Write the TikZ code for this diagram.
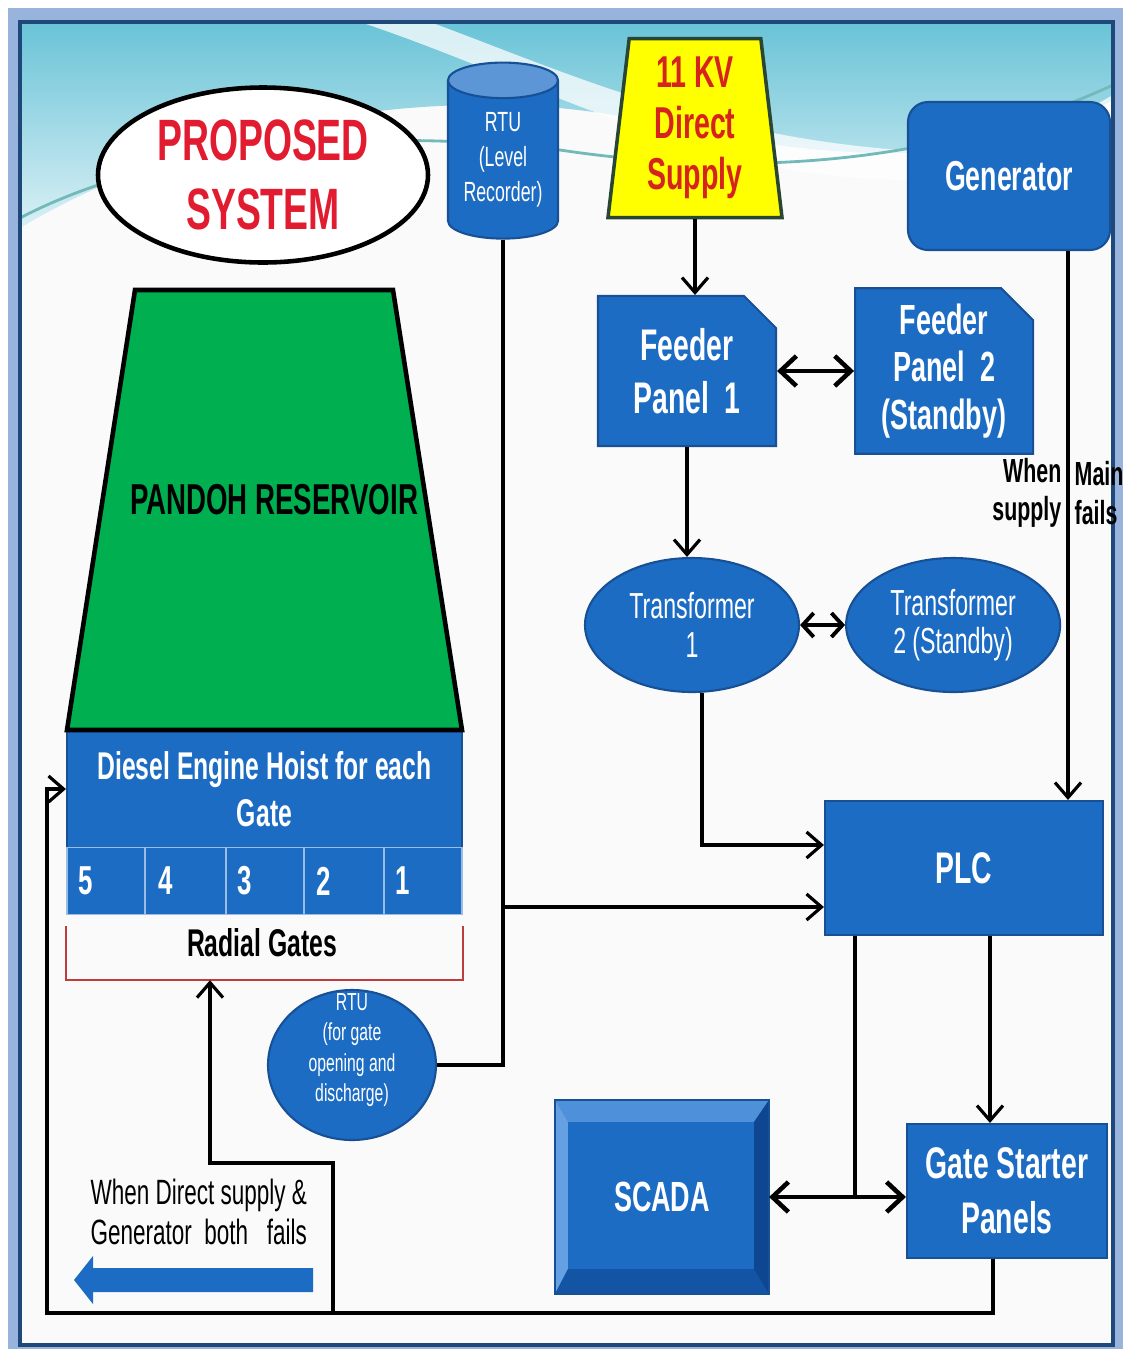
\documentclass[tikz,border=0pt]{standalone}
\usepackage{fontspec}
\setmainfont{Liberation Sans}[FakeStretch=0.64]
\usetikzlibrary{arrows.meta, positioning, shapes.geometric, shapes.misc}

\definecolor{PanelBlue}{RGB}{28,108,196}
\definecolor{PanelEdge}{RGB}{24,80,150}
\definecolor{LidBlue}{RGB}{92,150,214}
\definecolor{BevelLight}{RGB}{78,145,218}
\definecolor{BevelPale}{RGB}{100,160,226}
\definecolor{BevelDark}{RGB}{20,84,165}
\definecolor{BevelDeep}{RGB}{14,70,145}
\definecolor{TitleRed}{RGB}{225,28,48}
\definecolor{SupplyRed}{RGB}{215,35,30}
\definecolor{SupplyYellow}{RGB}{255,255,0}
\definecolor{SupplyEdge}{RGB}{40,70,50}
\definecolor{LakeGreen}{RGB}{0,176,80}
\definecolor{BracketRed}{RGB}{190,60,60}
\definecolor{FrameBand}{RGB}{152,180,220}
\definecolor{FrameLine}{RGB}{30,72,122}
\definecolor{SkyCyan}{RGB}{105,195,215}
\definecolor{PageWhite}{RGB}{250,250,250}

\begin{document}
\begin{tikzpicture}[x=0.1mm, y=-0.1mm,
    every node/.style={align=center, inner sep=0pt},
    panel/.style={rectangle, fill=PanelBlue, draw=PanelEdge, line width=0.6pt,
                  text=white, font=\bfseries\fontsize{12.6}{15}\selectfont},
    feeder/.style={panel, chamfered rectangle, chamfered rectangle corners=north east,
                   chamfered rectangle xsep=1.6mm, chamfered rectangle ysep=1.6mm,
                   minimum width=17.8mm, minimum height=15mm},
    oval/.style={ellipse, fill=PanelBlue, draw=PanelEdge, line width=0.6pt, text=white,
                 font=\fontsize{10.3}{11}\selectfont, minimum width=21.4mm, minimum height=13.4mm},
    gatecell/.style={panel, draw=white!55!PanelBlue, line width=0.5pt, minimum height=6.7mm,
                     font=\bfseries\fontsize{11.5}{13}\selectfont, align=left, text width=5.5mm},
    line/.style={draw=black, line width=0.9pt},
    arr/.style={line, -{Straight Barb[length=1.5mm, width=2.6mm]}},
    dbl/.style={line, line width=1.3pt,
                {Straight Barb[length=1.6mm, width=3mm]}-{Straight Barb[length=1.6mm, width=3mm]}},
    note/.style={text=black, font=\fontsize{10}{11.3}\selectfont}
]
\useasboundingbox (0,0) rectangle (1123,1349);

% page frame and sky
\fill[white] (0,0) rectangle (1123,1349);
\fill[FrameBand] (8,8) rectangle (1123,1349);
\fill[PageWhite] (20,22) rectangle (1113,1345);
\shade[top color=SkyCyan, bottom color=SkyCyan!25]
    (20,22) -- (1113,22) -- (1113,100) .. controls (980,175) and (820,160) .. (640,120)
    .. controls (450,80) and (200,120) .. (20,228) -- cycle;
\fill[white, opacity=0.75] (430,22) .. controls (560,70) and (700,135) .. (900,150)
    .. controls (1000,155) and (1070,120) .. (1113,95) -- (1113,125)
    .. controls (1040,170) and (960,185) .. (860,178) .. controls (680,165) and (520,75) .. (360,22) -- cycle;
\draw[teal!55, line width=0.8pt] (20,218) .. controls (150,150) and (350,125) .. (560,150)
    .. controls (760,180) and (950,160) .. (1113,85);
\draw[FrameLine, line width=1.3pt] (20,22) rectangle (1113,1345);

% title
\node[ellipse, draw=black, line width=1.3pt, fill=white, minimum width=33mm, minimum height=17.5mm] (title) at (263,175) {};
\node[text=TitleRed, font=\bfseries\fontsize{16.6}{19.8}\selectfont] (titletext) at (title) {PROPOSED\\SYSTEM};

% top row
\node[cylinder, shape border rotate=90, aspect=0.45, minimum width=11mm, minimum height=17.6mm,
      cylinder uses custom fill, cylinder body fill=PanelBlue, cylinder end fill=LidBlue,
      draw=PanelEdge, line width=0.6pt, text=white, font=\fontsize{7.9}{9.9}\selectfont]
      (rtu1) at (503,160) {RTU\\(Level\\Recorder)};
\node[trapezium, trapezium angle=81.5, trapezium stretches body, minimum width=17.4mm, minimum height=17.9mm,
      fill=SupplyYellow, draw=SupplyEdge, line width=1pt, text=SupplyRed,
      font=\bfseries\fontsize{12.7}{14.5}\selectfont] (supply) at (695,128) {11 KV\\Direct\\Supply};
\node[panel, rounded corners=2mm, minimum width=20.2mm, minimum height=14.8mm,
      font=\bfseries\fontsize{11.9}{14}\selectfont] (gen) at (1009,176) {Generator};

% feeders and transformers
\node[feeder] (fp1) at (687,371) {Feeder\\Panel\ \ 1};
\node[feeder, right=7.7mm of fp1, font=\bfseries\fontsize{12}{13.4}\selectfont] (fp2) {Feeder\\Panel\ \ 2\\(Standby)};
\node[oval] (t1) at (692,625) {Transformer\\1};
\node[oval, right=4.5mm of t1] (t2) {Transformer\\2\,(Standby)};

% control
\node[panel, minimum width=27.8mm, minimum height=13.4mm] (plc) at (964,868) {PLC};
\node[panel, minimum width=20mm, minimum height=13.4mm, font=\bfseries\fontsize{12.6}{15.6}\selectfont] (gsp) at (1007,1191) {Gate Starter\\Panels};
\node[panel, minimum width=21.2mm, minimum height=19.2mm, font=\bfseries\fontsize{12}{14}\selectfont] (scada) at (662,1197) {SCADA};
\fill[BevelLight] (scada.north west) -- (scada.north east) -- ([xshift=-1.5mm,yshift=-2.2mm]scada.north east) -- ([xshift=1.3mm,yshift=-2.2mm]scada.north west) -- cycle;
\fill[BevelPale] (scada.north west) -- ([xshift=1.3mm,yshift=-2.2mm]scada.north west) -- ([xshift=1.3mm,yshift=2.5mm]scada.south west) -- (scada.south west) -- cycle;
\fill[BevelDark] (scada.south west) -- ([xshift=1.3mm,yshift=2.5mm]scada.south west) -- ([xshift=-1.5mm,yshift=2.5mm]scada.south east) -- (scada.south east) -- cycle;
\fill[BevelDeep] (scada.north east) -- ([xshift=-1.5mm,yshift=-2.2mm]scada.north east) -- ([xshift=-1.5mm,yshift=2.5mm]scada.south east) -- (scada.south east) -- cycle;
\draw[PanelEdge, line width=0.6pt] (scada.north west) rectangle (scada.south east);

\node[ellipse, fill=PanelBlue, draw=PanelEdge, line width=0.6pt, minimum width=16.8mm, minimum height=15mm] (rtu2) at (352,1065) {};
\node[text=white, font=\fontsize{7}{8.6}\selectfont] (rtu2text) at (352,1050) {RTU\\(for gate\\opening and\\discharge)};

% reservoir and gates
\node[panel, minimum width=39.5mm, minimum height=11.8mm, font=\bfseries\fontsize{11}{13.3}\selectfont] (diesel) at (264.5,789) {Diesel Engine Hoist for each\\Gate};
\draw[fill=LakeGreen, draw=black, line width=1.3pt] (135,290) -- (393,290) -- (462,730) -- (67,730) -- cycle;
\node[font=\bfseries\fontsize{12.3}{15}\selectfont] (laketext) at (274,500) {PANDOH RESERVOIR};
\foreach \n/\xl/\xr in {5/67/145, 4/145/226, 3/226/304, 2/304/384, 1/384/462}
    \node[gatecell, minimum width={(\xr-\xl)*0.1mm}] (gate\n) at ({(\xl+\xr)/2},881) {\n};
\node[minimum width=39.5mm, minimum height=5.3mm] (radial) at (264.5,953) {};
\node[font=\bfseries\fontsize{11}{13}\selectfont] (radialtext) at (262,943) {Radial Gates};
\draw[BracketRed, line width=0.6pt] (radial.north west) -- (radial.south west) -- (radial.south east) -- (radial.north east);

% connectors
\draw[arr] (supply.south) -- (supply.south |- fp1.north);
\draw[dbl] (fp1.east) -- (fp2.west);
\draw[arr] (fp1.south) -- (fp1.south |- t1.north);
\draw[line, line width=1.1pt, {Straight Barb[length=1.1mm, width=2.4mm]}-{Straight Barb[length=1.1mm, width=2.4mm]}] (t1.east) -- (t2.west);
\draw[arr] ([xshift=1mm]t1.south) |- ([yshift=2.3mm]plc.west);
\draw[arr] ([xshift=5.9mm]gen.south) -- ([xshift=5.9mm]gen.south |- plc.north);
\node[anchor=east, align=right, font=\bfseries\fontsize{9.5}{11}\selectfont] (whenl) at (1062,493) {When\\supply};
\node[anchor=west, align=left, font=\bfseries\fontsize{9.5}{11}\selectfont] (whenr) at (1074,493) {Main\\fails};

\coordinate (plclow) at ([yshift=-3.9mm]plc.west);
\draw[line] (rtu1.south) |- (rtu2.east);
\draw[arr] (rtu1.south |- plclow) -- (plclow);
\draw[arr] ([xshift=2.6mm]plc.south) -- ([xshift=2.6mm]plc.south |- gsp.north);
\draw[line] ([xshift=-10.9mm]plc.south) -- ([xshift=-10.9mm]plc.south |- scada.east);
\draw[dbl] (scada.east) -- (scada.east -| gsp.west);

\draw[arr] ([xshift=-1.4mm]gsp.south) |- (47,1313) |- (diesel.west);
\coordinate (tap) at (333,1313);
\coordinate (rgx) at (210,1163);
\draw[arr] (tap) |- (rgx) -- (rgx |- radial.south);

\node[note, anchor=west, align=left] (bothfail) at (90,1212) {When Direct supply \&\\Generator\ \ both\ \ \ fails};
\fill[PanelBlue] (313,1268) -- (93,1268) -- (93,1256) -- (74,1280) -- (93,1304) -- (93,1292) -- (313,1292) -- cycle;
\end{tikzpicture}
\end{document}
